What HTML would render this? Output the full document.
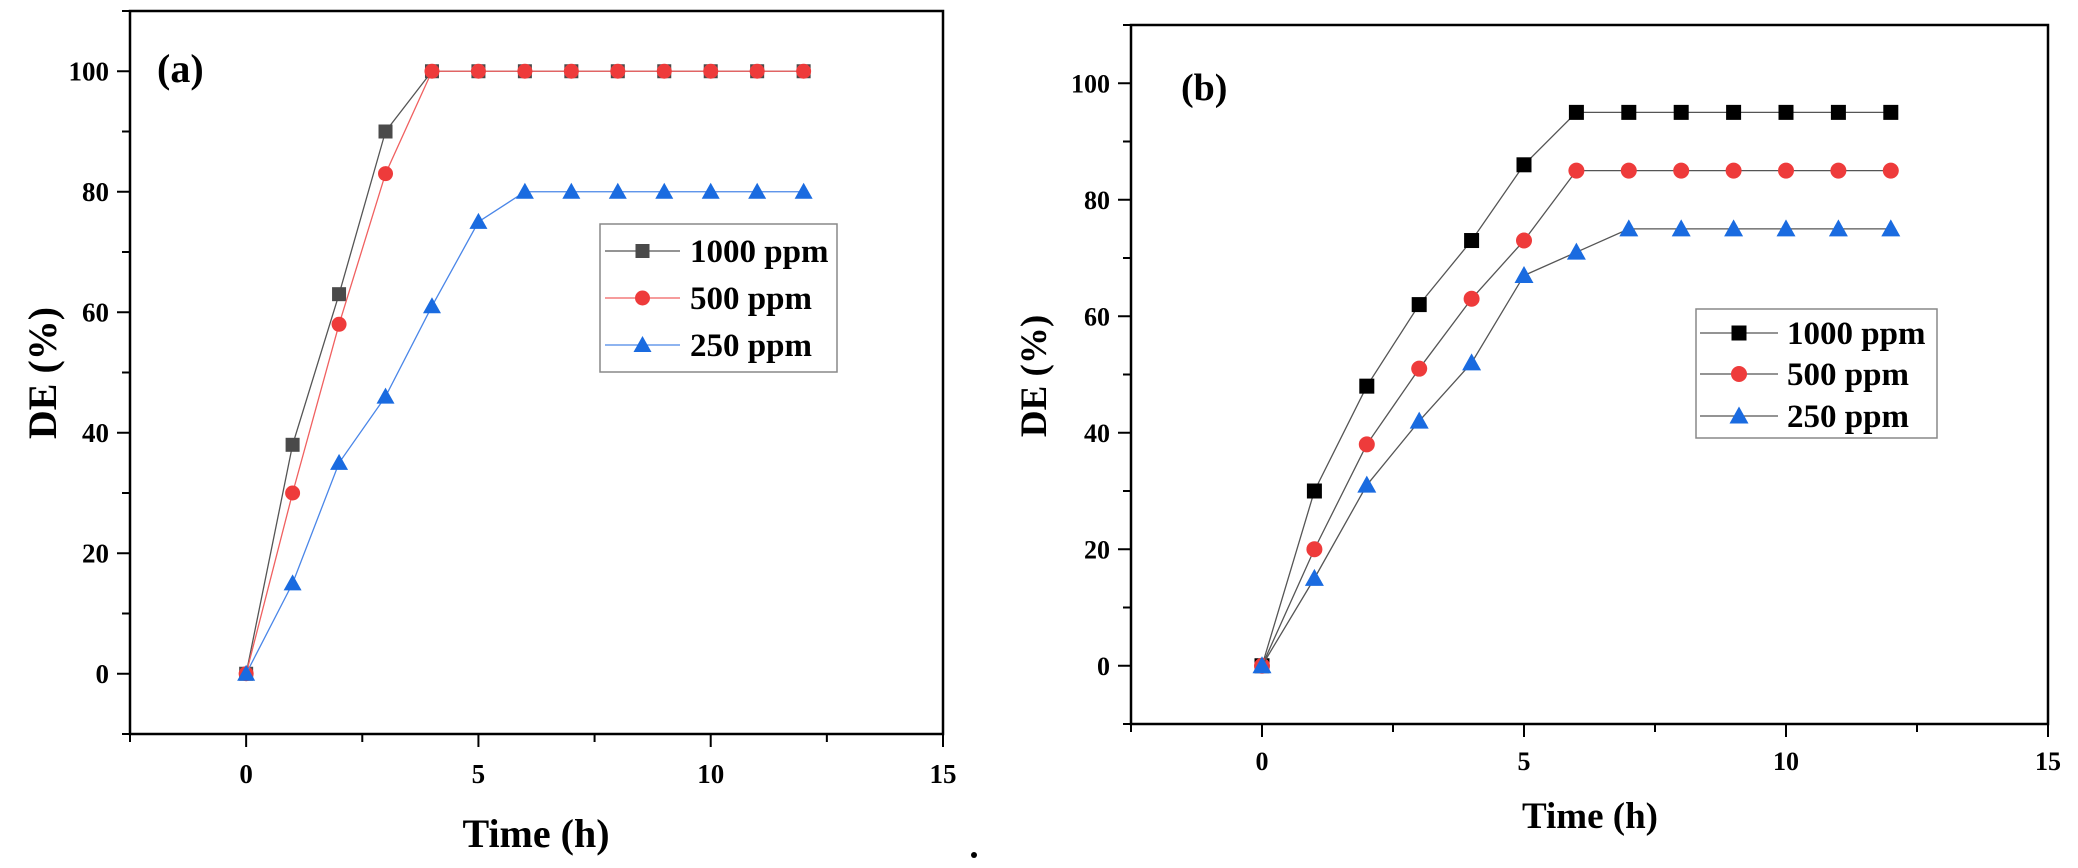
<!DOCTYPE html>
<html><head><meta charset="utf-8">
<style>
html,body{margin:0;padding:0;background:#fff;}
svg{display:block;font-family:"Liberation Serif",serif;font-weight:bold;}
</style></head>
<body>
<svg id="chart" width="2078" height="868" viewBox="0 0 2078 868" xmlns="http://www.w3.org/2000/svg"></svg>
<script>
const times = [0,1,2,3,4,5,6,7,8,9,10,11,12];
const seriesNames = ["1000 ppm","500 ppm","250 ppm"];
const aDE1000 = [0,38,63,90,100,100,100,100,100,100,100,100,100];
const aDE500  = [0,30,58,83,100,100,100,100,100,100,100,100,100];
const aDE250  = [0,15,35,46,61,75,80,80,80,80,80,80,80];
const bDE1000 = [0,30,48,62,73,86,95,95,95,95,95,95,95];
const bDE500  = [0,20,38,51,63,73,85,85,85,85,85,85,85];
const bDE250  = [0,15,31,42,52,67,71,75,75,75,75,75,75];
const yTicks = [0,20,40,60,80,100];
const xTicks = [0,5,10,15];

const NS="http://www.w3.org/2000/svg";
const svg=document.getElementById('chart');
function mk(tag,attrs,parent){const e=document.createElementNS(NS,tag);for(const k in attrs)e.setAttribute(k,attrs[k]);(parent||svg).appendChild(e);return e;}

function panel(cfg){
  const g=mk('g',{});
  
  
  const X=v=>cfg.x0+(v-(-2.5))/(17.5)*(cfg.x1-cfg.x0);
  const Y=v=>cfg.y1-(v-(-10))/120*(cfg.y1-cfg.y0);
  const fr=mk('rect',{x:cfg.x0,y:cfg.y0,width:cfg.x1-cfg.x0,height:cfg.y1-cfg.y0,fill:'none',stroke:'#000','stroke-width':2.5},g);
  
  
  for(let v=-10;v<=110;v+=10){
    const major=yTicks.includes(v);
    const t=mk('line',{x1:cfg.x0,x2:cfg.x0-(major?13:8),y1:Y(v),y2:Y(v),stroke:'#000','stroke-width':2},g);
    
    
    if(major){
      const l=mk('text',{x:cfg.x0-21,y:Y(v)+9,'text-anchor':'end','font-size':cfg.tickFont},g);
      l.textContent=v;
      
      
    }
  }
  for(let v=-2.5;v<=15;v+=2.5){
    const major=xTicks.includes(v);
    const t=mk('line',{x1:X(v),x2:X(v),y1:cfg.y1,y2:cfg.y1+(major?13:8),stroke:'#000','stroke-width':2},g);
    
    
    if(major){
      const l=mk('text',{x:X(v),y:cfg.xlabY,'text-anchor':'middle','font-size':cfg.tickFont},g);
      l.textContent=v;
      
      
    }
  }
  const xt=mk('text',{x:cfg.xtX,y:cfg.xtY,'text-anchor':'middle','font-size':cfg.titleFont},g);
  xt.textContent=cfg.xtitle; xt.setAttribute('xml:space','preserve');
  
  
  const yt=mk('text',{x:0,y:0,'text-anchor':'middle','font-size':cfg.titleFont,transform:`translate(${cfg.ytX},${cfg.ytY}) rotate(-90)`},g);
  yt.textContent='DE (%)';
  
  
  const pl=mk('text',{x:cfg.plX,y:cfg.plY,'font-size':cfg.plFont},g);
  pl.textContent=cfg.plabel;
  
  

  function marker(kind,cx,cy,color,parent,s){
    let m;
    if(kind==0) m=mk('rect',{x:cx-s/2,y:cy-s/2,width:s,height:s,fill:color},parent);
    else if(kind==1) m=mk('circle',{cx:cx,cy:cy,r:s/2+0.5,fill:color},parent);
    else m=mk('polygon',{points:`${cx},${cy-s/2-2} ${cx-s/2-2},${cy+s/2} ${cx+s/2+2},${cy+s/2}`,fill:color},parent);
    return m;
  }
  for(let i=0;i<cfg.data.length;i++){
    const sg=mk('g',{},g);
    
    
    const pts=times.map((t,j)=>X(t)+','+Y(cfg.data[i][j])).join(' ');
    const ln=mk('polyline',{points:pts,fill:'none',stroke:cfg.lineColors[i],'stroke-width':1.3},sg);
    
    
    times.forEach((t,j)=>{
      const m=marker(i,X(t),Y(cfg.data[i][j]),cfg.markColors[i],sg,cfg.ms);
      
      
    });
  }
  const lg=mk('g',{},g);
  
  
  const lr=mk('rect',{x:cfg.lg.x,y:cfg.lg.y,width:cfg.lg.w,height:cfg.lg.h,fill:'#fff',stroke:'#888','stroke-width':1.5},lg);
  
  
  seriesNames.forEach((n,i)=>{
    const e=mk('g',{},lg);
    
    
    const ry=cfg.lg.rows[i];
    mk('line',{x1:cfg.lg.lx0,x2:cfg.lg.lx1,y1:ry,y2:ry,stroke:cfg.lineColors[i],'stroke-width':1.3},e);
    marker(i,(cfg.lg.lx0+cfg.lg.lx1)/2,ry,cfg.markColors[i],e,cfg.ms);
    const tx=mk('text',{x:cfg.lg.tx,y:ry+11,'font-size':cfg.lg.font},e);
    tx.textContent=n;
  });
}

panel({name:'panel-a',x0:130,x1:943,y0:11,y1:734,tickFont:27,xlabY:783,
  xtitle:'Time  (h)',xtX:536,xtY:847,titleFont:40,ytX:56,ytY:373,
  plabel:'(a)',plX:157,plY:82,plFont:40,ms:14,
  data:[aDE1000,aDE500,aDE250],
  lineColors:['#555','#f06060','#4a86e8'],markColors:['#4a4a4a','#ee3b3b','#1a6be0'],
  lg:{x:600,y:224,w:237,h:148,rows:[251,298,345],lx0:605,lx1:680,tx:690,font:33}});
panel({name:'panel-b',x0:1131,x1:2048,y0:25,y1:724,tickFont:26,xlabY:770,
  xtitle:'Time (h)',xtX:1590,xtY:828,titleFont:37,ytX:1046,ytY:376,
  plabel:'(b)',plX:1181,plY:100,plFont:38,ms:15,
  data:[bDE1000,bDE500,bDE250],
  lineColors:['#555','#555','#555'],markColors:['#000','#ee3b3b','#1a6be0'],
  lg:{x:1696,y:309,w:241,h:129,rows:[333,374,416],lx0:1700,lx1:1778,tx:1787,font:33}});
const dot=mk('circle',{cx:974,cy:855,r:3,fill:'#000'});


</script>
</body></html>
